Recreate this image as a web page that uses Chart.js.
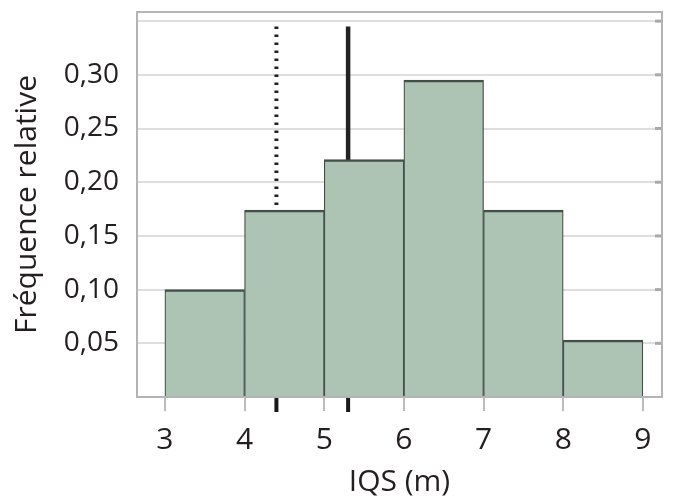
<!DOCTYPE html>
<html>
<head>
<meta charset="utf-8">
<script src="https://cdn.jsdelivr.net/npm/chart.js@4.4.0/dist/chart.umd.min.js"></script>
<style>
  html, body { margin: 0; padding: 0; background: #fff; }
  #wrap { width: 685px; height: 502px; }
</style>
</head>
<body>
<div id="wrap"><canvas id="histo" width="685" height="502"></canvas></div>
<script>
// histogram bins (edges) and relative frequencies
const binEdges = [3, 4, 5, 6, 7, 8, 9]
const relFreq = [0.100, 0.174, 0.221, 0.295, 0.174, 0.053]
const xTicks = [3, 4, 5, 6, 7, 8, 9]
const yTicks = [0.05, 0.10, 0.15, 0.20, 0.25, 0.30, 0.35]
// reference lines
const dottedAt = 4.4
const solidAt = 5.3
const lineTop = 0.345
const markLen = -0.014

const textCol = '#231f20'
const fontFam = '"Open Sans", "Noto Sans", sans-serif'

function barData(){
  let out = []
  for (let i = 0; i < relFreq.length; i++){
    out.push({x: (binEdges[i] + binEdges[i+1]) / 2, y: relFreq[i]})
  }
  return out
}

function fmt(v){
  return v.toFixed(2).replace('.', ',')
}

// grey frame around the plot, plus small ticks on the right side
const framePlugin = {
  id: 'frame',
  afterDatasetsDraw(chart){
    const ctx = chart.ctx
    const a = chart.chartArea
    const ys = chart.scales.y
    ctx.save()
    ctx.strokeStyle = '#a9a9ac'
    ctx.lineWidth = 3
    for (let i = 0; i < yTicks.length; i++){
      let py = ys.getPixelForValue(yTicks[i])
      ctx.beginPath()
      ctx.moveTo(a.right - 7, py)
      ctx.lineTo(a.right, py)
      ctx.stroke()
    }
    ctx.strokeStyle = '#b4b4b7'
    ctx.lineWidth = 2
    ctx.strokeRect(a.left, a.top, a.right - a.left, a.bottom - a.top)
    ctx.restore()
  }
}

const config = {
  type: 'bar',
  data: {
    datasets: [
      {
        type: 'bar',
        data: barData(),
        backgroundColor: '#adc3b4',
        borderColor: '#434f48',
        borderWidth: {top: 2.5, left: 1.25, right: 1.25, bottom: 0},
        borderSkipped: false,
        barPercentage: 1,
        categoryPercentage: 1,
        order: 0
      },
      {
        type: 'line',
        data: [{x: dottedAt, y: 0}, {x: dottedAt, y: lineTop}],
        borderColor: '#222',
        borderWidth: 4,
        borderDash: [2.5, 5.5],
        pointRadius: 0,
        order: 2
      },
      {
        type: 'line',
        data: [{x: solidAt, y: 0}, {x: solidAt, y: lineTop}],
        borderColor: '#222',
        borderWidth: 4.5,
        pointRadius: 0,
        order: 2
      },
      {
        type: 'line',
        data: [{x: dottedAt, y: 0}, {x: dottedAt, y: markLen}],
        borderColor: '#1a1a1a',
        borderWidth: 4,
        pointRadius: 0,
        clip: false,
        order: 3
      },
      {
        type: 'line',
        data: [{x: solidAt, y: 0}, {x: solidAt, y: markLen}],
        borderColor: '#1a1a1a',
        borderWidth: 4,
        pointRadius: 0,
        clip: false,
        order: 3
      }
    ]
  },
  options: {
    responsive: false,
    animation: false,
    layout: { padding: {top: 12, right: 23, left: 0, bottom: 0} },
    plugins: { legend: { display: false }, tooltip: { enabled: false } },
    scales: {
      x: {
        type: 'linear',
        min: 2.65,
        max: 9.24,
        offset: false,
        afterFit: function(s){ s.height = 105; s.paddingLeft = 0; s.paddingRight = 0 },
        afterBuildTicks: function(s){ s.ticks = xTicks.map(v => ({value: v})) },
        border: { display: false },
        grid: { offset: false, drawOnChartArea: false, drawTicks: true, tickLength: 14, color: '#bcbcbc', lineWidth: 2 },
        ticks: { color: textCol, font: {family: fontFam, size: 30}, padding: 11, maxRotation: 0 },
        title: { display: true, text: 'IQS (m)', color: textCol, font: {family: fontFam, size: 30}, padding: {top: 0, bottom: 2} }
      },
      y: {
        min: 0,
        max: 0.3585,
        afterFit: function(s){ s.width = 137; s.paddingTop = 0; s.paddingBottom = 0 },
        afterBuildTicks: function(s){ s.ticks = [0].concat(yTicks).map(v => ({value: v})) },
        border: { display: false },
        grid: { color: '#dedede', lineWidth: 2, drawTicks: false },
        ticks: {
          color: textCol,
          font: {family: fontFam, size: 28},
          padding: 18,
          callback: function(v){ return (v > 0 && v < 0.34) ? fmt(v) : '' }
        },
        title: { display: true, text: 'Fréquence relative', color: textCol, font: {family: fontFam, size: 30}, padding: {top: 9, bottom: 0} }
      }
    }
  },
  plugins: [framePlugin]
}

const myChart = new Chart(document.getElementById('histo'), config)
</script>
</body>
</html>
